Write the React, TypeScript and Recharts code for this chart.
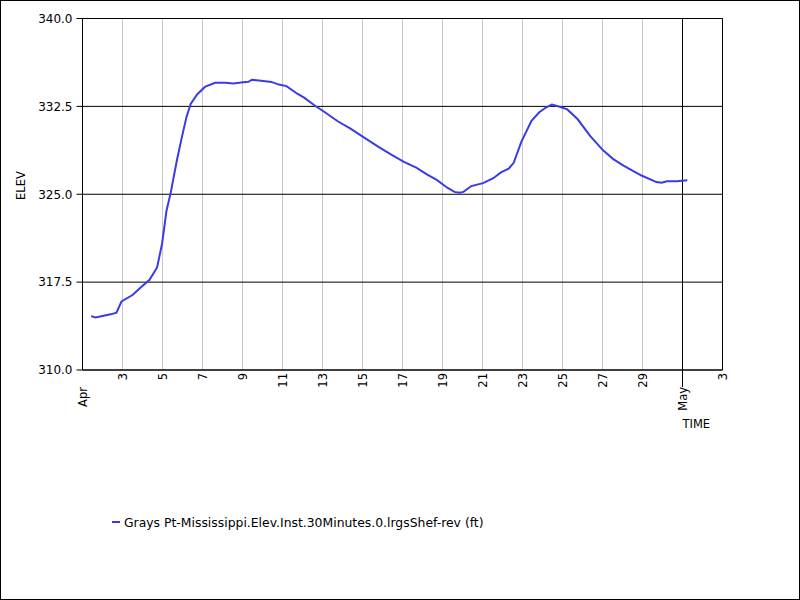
import React from 'react';
import { LineChart, Line, XAxis, YAxis, CartesianGrid, ReferenceLine, Legend } from 'recharts';

// days since Apr 1 (0 = Apr 1, 30 = May 1)
const days = [
  0.43, 0.65, 1.0, 1.4, 1.7, 1.95, 2.5, 2.95, 3.35, 3.73, 3.98, 4.2, 4.42, 4.72, 4.98, 5.2, 5.41, 5.74,
  6.12, 6.63, 7.15, 7.53, 8.04, 8.3, 8.47, 8.93, 9.44, 9.82, 10.2, 10.72, 11.1, 11.61, 12.12, 12.76,
  13.4, 14.03, 14.8, 15.44, 16.07, 16.71, 17.22, 17.73, 18.24, 18.6, 18.85, 19.05, 19.44, 20.03, 20.54,
  20.92, 21.31, 21.56, 21.94, 22.45, 22.84, 23.17, 23.47, 23.86, 24.24, 24.75, 25.39, 26.03, 26.54,
  27.05, 27.95, 28.7, 28.96, 29.22, 29.73, 30.24,
];
const elev = [
  314.6, 314.48, 314.6, 314.75, 314.9, 315.85, 316.4, 317.1, 317.7, 318.75, 320.8, 323.6, 325.2, 327.9,
  329.96, 331.6, 332.7, 333.54, 334.16, 334.52, 334.52, 334.46, 334.55, 334.6, 334.78, 334.69, 334.59,
  334.36, 334.23, 333.6, 333.22, 332.57, 332.0, 331.23, 330.6, 329.9, 329.04, 328.39, 327.77, 327.25,
  326.7, 326.2, 325.56, 325.2, 325.12, 325.2, 325.7, 325.95, 326.37, 326.86, 327.19, 327.68, 329.47,
  331.26, 332.0, 332.4, 332.66, 332.47, 332.24, 331.42, 329.96, 328.75, 328.0, 327.45, 326.6, 326.04,
  325.98, 326.11, 326.11, 326.2,
];
const xTicks = [0, 2, 4, 6, 8, 10, 12, 14, 16, 18, 20, 22, 24, 26, 28, 30, 32];
const xTickLabels = ['Apr', '3', '5', '7', '9', '11', '13', '15', '17', '19', '21', '23', '25', '27', '29', 'May', '3'];
const yTicks = [310, 317.5, 325, 332.5, 340];
const seriesName = 'Grays Pt-Mississippi.Elev.Inst.30Minutes.0.lrgsShef-rev (ft)';

const data = days.map((d, i) => ({ day: d, elev: elev[i] }));
const FONT = 'DejaVu Sans, Verdana, sans-serif';
const LINE_COLOR = '#3b3be6';

const XTick = (props: any) => {
  const { x, y, payload } = props;
  const idx = xTicks.indexOf(payload.value);
  const label = xTickLabels[idx] ?? '';
  const isMonth = label === 'Apr' || label === 'May';
  const longTick = label === 'May';
  const ty = isMonth ? y + 17 : y + 3;
  return (
    <g>
      {longTick && <line x1={x} y1={y} x2={x} y2={y + 17} stroke="#000" strokeWidth={1} />}
      <text
        x={x}
        y={ty}
        transform={`rotate(-90, ${x}, ${ty})`}
        textAnchor="end"
        dy="0.35em"
        fontFamily={FONT}
        fontSize={11.5}
        fill="#000"
      >
        {label}
      </text>
    </g>
  );
};

const LegendContent = () => (
  <div style={{ display: 'flex', alignItems: 'center', height: 20, fontFamily: FONT, fontSize: 12.4, color: '#000', whiteSpace: 'nowrap' }}>
    <svg width={11} height={10} style={{ marginRight: 3 }}>
      <line x1={2} y1={5} x2={10} y2={5} stroke={LINE_COLOR} strokeWidth={2} />
    </svg>
    <span>{seriesName}</span>
  </div>
);

export default function App() {
  return (
    <div style={{ position: 'absolute', left: 0, top: 0, width: 800, height: 600, background: '#fff' }}>
      <LineChart
        width={800}
        height={600}
        data={data}
        margin={{ top: 18.5, right: 77.5, left: 0.5, bottom: 180 }}
      >
        <CartesianGrid vertical horizontal={false} stroke="#c8c8c8" strokeWidth={1} />
        <CartesianGrid vertical={false} horizontal stroke="#000" strokeWidth={1} />
        <XAxis
          dataKey="day"
          type="number"
          domain={[0, 32]}
          ticks={xTicks}
          interval={0}
          tickSize={0}
          tickMargin={0}
          tickLine={false}
          axisLine={{ stroke: '#000' }}
          height={30}
          tick={<XTick />}
          label={(props: any) => {
            const vb = props.viewBox;
            return (
              <text x={vb.x + 600} y={vb.y + 58} fontFamily={FONT} fontSize={11.5} fill="#000">
                TIME
              </text>
            );
          }}
        />
        <YAxis
          type="number"
          domain={[310, 340]}
          ticks={yTicks}
          interval={0}
          width={82}
          tickSize={6}
          tickMargin={4}
          tickLine={{ stroke: '#000' }}
          axisLine={{ stroke: '#000' }}
          tick={{ fill: '#000', fontFamily: FONT, fontSize: 12 }}
          tickFormatter={(v: number) => v.toFixed(1)}
          label={(props: any) => {
            const vb = props.viewBox;
            const cx = 21;
            const cy = vb.y + 167;
            return (
              <text
                x={cx}
                y={cy}
                transform={`rotate(-90, ${cx}, ${cy})`}
                textAnchor="middle"
                dy="0.35em"
                fontFamily={FONT}
                fontSize={11.5}
                fill="#000"
              >
                ELEV
              </text>
            );
          }}
        />
        <ReferenceLine y={340} stroke="#000" strokeWidth={1} />
        <ReferenceLine x={32} stroke="#000" strokeWidth={1} />
        <ReferenceLine x={30} stroke="#000" strokeWidth={1} />
        <Legend
          verticalAlign="bottom"
          content={<LegendContent />}
          wrapperStyle={{ position: 'absolute', left: 110, top: 512, width: 560, height: 20 }}
        />
        <Line
          type="linear"
          dataKey="elev"
          stroke={LINE_COLOR}
          strokeWidth={2}
          dot={false}
          isAnimationActive={false}
          name={seriesName}
        />
      </LineChart>
      <div
        style={{
          position: 'absolute',
          left: 0,
          top: 0,
          width: 800,
          height: 600,
          boxSizing: 'border-box',
          border: '1px solid #000',
          pointerEvents: 'none',
        }}
      />
    </div>
  );
}
